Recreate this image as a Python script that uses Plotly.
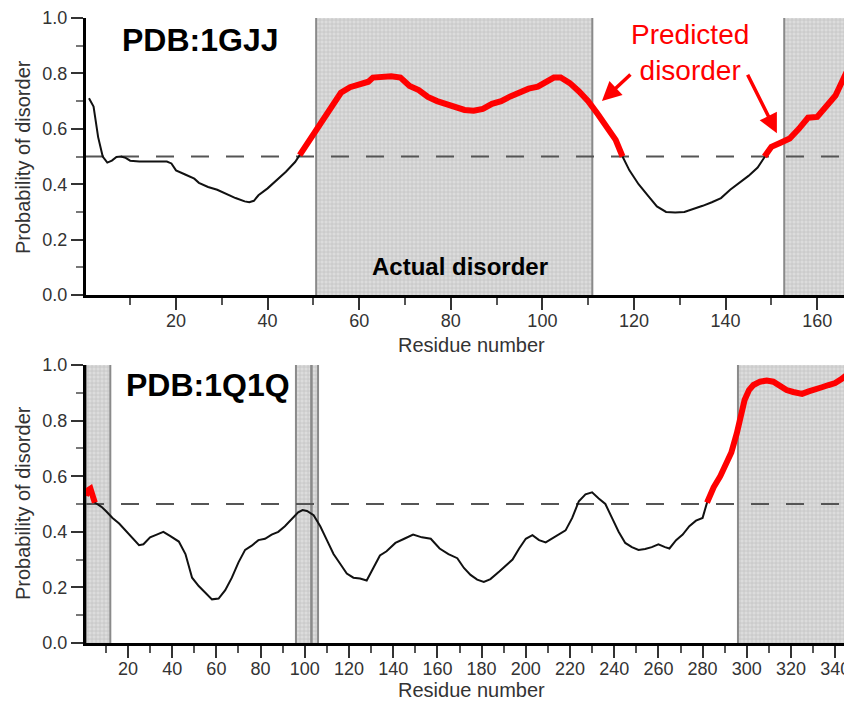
import plotly.graph_objects as go
from plotly.subplots import make_subplots

# ---------------- data ----------------
# PDB:1GJJ
res_1gjj = [1, 2, 3, 4, 5, 6, 7, 8, 9, 10, 12, 14, 16, 18, 19, 20, 22, 24, 25, 27, 29, 31, 33, 35, 36, 37,
            38, 40, 42, 44, 46, 47, 48, 50, 52, 54, 56, 58, 60, 62, 63, 65, 67, 69, 71, 73, 75, 77, 79, 81,
            83, 85, 87, 89, 91, 93, 95, 97, 99, 101, 102.5, 104, 106, 108, 110, 112, 114, 116, 117.5, 119,
            121, 123, 125, 127, 129, 131, 133, 135, 137, 139, 141, 143, 145, 147, 148.5, 150, 152, 154, 156,
            158, 160, 162, 164, 166, 167.6]
prob_1gjj = [0.71, 0.68, 0.57, 0.50, 0.478, 0.485, 0.498, 0.50, 0.495, 0.485, 0.482, 0.482, 0.483, 0.482,
             0.475, 0.45, 0.435, 0.42, 0.405, 0.39, 0.38, 0.365, 0.35, 0.338, 0.335, 0.34, 0.36, 0.385,
             0.415, 0.445, 0.48, 0.505, 0.53, 0.585, 0.635, 0.68, 0.73, 0.75, 0.76, 0.77, 0.785, 0.79, 0.79,
             0.785, 0.755, 0.74, 0.715, 0.70, 0.69, 0.675, 0.668, 0.665, 0.672, 0.69, 0.70, 0.717, 0.73,
             0.745, 0.752, 0.77, 0.785, 0.785, 0.765, 0.735, 0.70, 0.655, 0.61, 0.56, 0.50, 0.45, 0.40,
             0.36, 0.32, 0.30, 0.298, 0.30, 0.31, 0.322, 0.335, 0.35, 0.38, 0.405, 0.43, 0.46, 0.50, 0.535,
             0.55, 0.565, 0.60, 0.64, 0.643, 0.68, 0.72, 0.79, 0.76]
actual_1gjj = [[50.6, 110.9], [152.8, 170]]
predicted_1gjj = [[47, 117.5], [148.5, 168]]

# PDB:1Q1Q
res_1q1q = [1, 2, 3, 4, 5, 6, 8, 10, 13, 16, 19, 22, 25, 27, 30, 33, 36, 39, 43, 46, 49, 52, 55, 58, 61, 64,
            67, 70, 73, 76, 79, 82, 85, 88, 91, 94, 97, 99, 101, 104, 107, 110, 113, 116, 119, 122, 125, 128,
            131, 134, 137, 141, 145, 149, 153, 157, 161, 165, 169, 172, 175, 178, 181, 184, 188, 191, 194,
            197, 200, 203, 206, 209, 212, 215, 218, 221, 224, 227, 230, 233, 236, 239, 242, 245, 248, 251,
            254, 257, 260, 263, 265, 268, 271, 274, 277, 280, 282, 285, 288, 291, 293, 295.5, 297, 299, 301,
            303, 306, 309, 312, 315, 318, 321, 325, 328, 331, 334, 337, 340, 343, 345.5, 347.6]
prob_1q1q = [0.53, 0.55, 0.555, 0.53, 0.505, 0.50, 0.49, 0.475, 0.45, 0.43, 0.405, 0.38, 0.352, 0.355, 0.38,
             0.39, 0.40, 0.385, 0.365, 0.32, 0.235, 0.205, 0.18, 0.157, 0.16, 0.19, 0.235, 0.29, 0.335, 0.35,
             0.37, 0.375, 0.39, 0.40, 0.42, 0.445, 0.47, 0.478, 0.475, 0.46, 0.42, 0.37, 0.32, 0.285, 0.25,
             0.235, 0.232, 0.225, 0.27, 0.315, 0.33, 0.36, 0.375, 0.39, 0.38, 0.375, 0.34, 0.32, 0.305, 0.27,
             0.245, 0.228, 0.22, 0.23, 0.257, 0.28, 0.30, 0.34, 0.375, 0.388, 0.37, 0.362, 0.377, 0.39,
             0.405, 0.45, 0.51, 0.535, 0.542, 0.52, 0.50, 0.45, 0.40, 0.36, 0.345, 0.335, 0.338, 0.345,
             0.355, 0.345, 0.34, 0.37, 0.39, 0.42, 0.44, 0.45, 0.505, 0.56, 0.60, 0.645, 0.685, 0.755, 0.81,
             0.874, 0.91, 0.928, 0.94, 0.944, 0.94, 0.925, 0.91, 0.903, 0.896, 0.905, 0.915, 0.92, 0.928,
             0.935, 0.95, 0.965, 0.98]
actual_1q1q = [[1, 12], [96, 103], [103, 106], [296, 350]]
predicted_1q1q = [[1, 5], [282, 348]]

threshold = 0.5
xrange_1gjj = [0.35, 167.6]
xrange_1q1q = [1.0, 347.6]

FONT = "Liberation Sans, Arial, Helvetica, sans-serif"

# the page body adds an 8px margin, so the figure is 8px smaller than the window on each side
W, H, OFF = 844, 693, 8

fig = make_subplots(rows=2, cols=1, vertical_spacing=0.1)


def add_panel(row, res, prob, actual, predicted, xr):
    # shaded actual-disorder regions
    fig.add_trace(go.Bar(
        x=[(a + b) / 2 for a, b in actual], y=[1.0] * len(actual), base=0,
        width=[b - a for a, b in actual],
        marker=dict(color="#d4d4d4", line_width=0,
                    pattern=dict(shape="+", fgcolor="#a8a8a8", bgcolor="#dcdcdc", size=4, solidity=0.35)),
        hoverinfo="skip"), row=row, col=1)
    ex, ey = [], []
    for a, b in actual:
        for e in (a, b):
            ex += [e, e, None]
            ey += [0, 1, None]
    fig.add_trace(go.Scatter(x=ex, y=ey, mode="lines", line=dict(color="#8a8a8a", width=2),
                             hoverinfo="skip"), row=row, col=1)
    # threshold
    fig.add_trace(go.Scatter(x=xr, y=[threshold, threshold], mode="lines",
                             line=dict(color="#555555", width=2, dash="18px,17px"),
                             hoverinfo="skip"), row=row, col=1)
    # full curve
    fig.add_trace(go.Scatter(x=res, y=prob, mode="lines", line=dict(color="#111111", width=2),
                             hoverinfo="skip"), row=row, col=1)
    # predicted disorder (red)
    red = [p if any(a <= r <= b for a, b in predicted) else None for r, p in zip(res, prob)]
    fig.add_trace(go.Scatter(x=res, y=red, mode="lines", line=dict(color="#ff0000", width=6),
                             connectgaps=False, hoverinfo="skip"), row=row, col=1)


add_panel(1, res_1gjj, prob_1gjj, actual_1gjj, predicted_1gjj, xrange_1gjj)
add_panel(2, res_1q1q, prob_1q1q, actual_1q1q, predicted_1q1q, xrange_1q1q)

axis_common = dict(showline=True, linecolor="black", linewidth=3, ticks="outside", ticklen=12,
                   tickwidth=2, tickcolor="#333333", showgrid=False, zeroline=False, automargin=False,
                   ticklabeloverflow="allow",
                   tickfont=dict(family=FONT, size=18, color="#333333"))
fig.update_xaxes(**axis_common, dtick=20, tick0=0, ticklabelstandoff=-5,
                 minor=dict(dtick=10, tick0=0, ticks="outside", ticklen=7, tickwidth=1.5,
                            tickcolor="#555555", showgrid=False))
fig.update_yaxes(**axis_common, range=[0, 1], dtick=0.2, tickformat=".1f",
                 minor=dict(dtick=0.1, tick0=0, ticks="outside", ticklen=7, tickwidth=1.5,
                            tickcolor="#777777", showgrid=False))
fig.update_xaxes(range=xrange_1gjj, row=1, col=1)
fig.update_xaxes(range=xrange_1q1q, row=2, col=1)


def px_x(p):
    # window pixel -> paper x
    return (p - 86) / (W - (86 - OFF))


def px_y(p):
    # window pixel -> paper y
    return (H - (p - OFF)) / H


fig.update_layout(
    xaxis=dict(domain=[0, 1]), xaxis2=dict(domain=[0, 1]),
    yaxis=dict(domain=[px_y(295), px_y(18)]), yaxis2=dict(domain=[px_y(643), px_y(365)]),
)

annots = [
    dict(text="<b>PDB:1GJJ</b>", x=px_x(200), y=px_y(40), size=32, color="black"),
    dict(text="<b>PDB:1Q1Q</b>", x=px_x(208), y=px_y(385), size=32, color="black"),
    dict(text="<b>Actual disorder</b>", x=px_x(460), y=px_y(266), size=24, color="black"),
    dict(text="Predicted<br>disorder", x=px_x(690), y=px_y(52), size=28, color="#ff0000"),
    dict(text="Residue number", x=px_x(471), y=px_y(345), size=20, color="#333333"),
    dict(text="Residue number", x=px_x(471), y=px_y(690), size=20, color="#333333"),
]
for a in annots:
    fig.add_annotation(text=a["text"], x=a["x"], y=a["y"], xref="paper", yref="paper",
                       showarrow=False, xanchor="center", yanchor="middle",
                       font=dict(family=FONT, size=a["size"], color=a["color"]))
for yy in (px_y(157), px_y(503)):
    fig.add_annotation(text="Probability of disorder", x=px_x(23), y=yy, xref="paper", yref="paper",
                       showarrow=False, textangle=-90, xanchor="center", yanchor="middle",
                       font=dict(family=FONT, size=20, color="#333333"))

# arrows to predicted disorder
for hx, hy, ax, ay in [(113, 0.70, 30, -28), (151.2, 0.584, -30, -60)]:
    fig.add_annotation(x=hx, y=hy, xref="x", yref="y", text="", showarrow=True, ax=ax, ay=ay,
                       arrowhead=2, arrowsize=1.1, arrowwidth=3.5, arrowcolor="#ff0000")

fig.update_layout(width=W, height=H, margin=dict(l=86 - OFF, r=0, t=0, b=0, autoexpand=False),
                  plot_bgcolor="white", paper_bgcolor="white", showlegend=False,
                  barmode="overlay", hovermode=False)

fig.write_html("out.html")
